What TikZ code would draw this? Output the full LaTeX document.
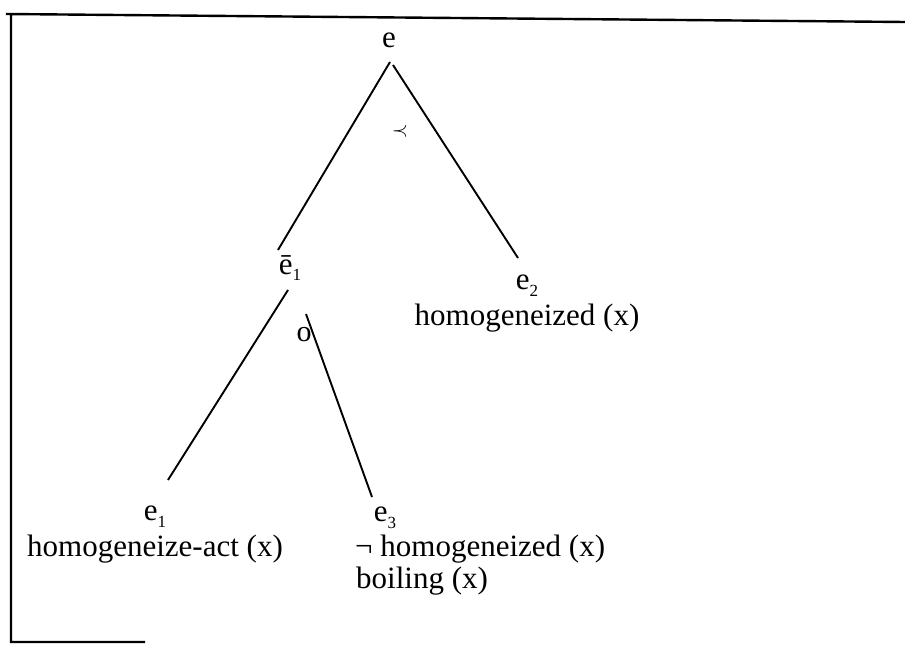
\documentclass[tikz,border=0pt]{standalone}
\usepackage{fontspec}
\setmainfont{Liberation Serif}
\newcommand\lsub[1]{\raisebox{-0.22em}{\fontsize{17}{17}\selectfont #1}}
\begin{document}
\begin{tikzpicture}[x=1pt,y=-1pt,
  lbl/.style={inner sep=0pt,font=\fontsize{31}{34}\selectfont},
  rel/.style={inner sep=0pt,font=\fontsize{30}{32}\selectfont},
  branch/.style={line width=1.9pt},
  frameline/.style={line width=2.4pt}]
\useasboundingbox (0,0) rectangle (905,652);
% partial frame
\draw[frameline] (905,22) -- (6,14) -- (11,14) -- (11,642) -- (145,642);
% nodes
\node[lbl] (e) at (389,40) {e};
\node[lbl] (e1b) at (290,268) {ē\lsub{1}};
\node[lbl] (e2) at (527,286) {e\lsub{2}};
\node[lbl,anchor=north] (t2) at (527,304) {homogeneized (x)};
\node[lbl] (e1) at (155,517) {e\lsub{1}};
\node[lbl,anchor=north] (t1) at (155,535) {homogeneize-act (x)};
\node[lbl] (e3) at (385,518) {e\lsub{3}};
\node[lbl,anchor=north west] (t3) at (355,535) {¬ homogeneized (x)};
\node[lbl,anchor=north west] (t4) at (356,567) {boiling (x)};
\node[inner sep=0pt,font=\fontsize{20}{20}\selectfont] (prec) at (400,131) {$\prec$};
\node[rel] (o) at (304,335) {o};
% branches
\draw[branch] ([shift={(1,22)}]e.center) -- ([shift={(-12,-18)}]e1b.center);
\draw[branch] ([shift={(4,25)}]e.center) -- ([shift={(-9,-28)}]e2.center);
\draw[branch] ([shift={(-2,22)}]e1b.center) -- ([shift={(13,-37)}]e1.center);
\draw[branch] ([shift={(16,46)}]e1b.center) -- ([shift={(-13,-21)}]e3.center);
\end{tikzpicture}
\end{document}
